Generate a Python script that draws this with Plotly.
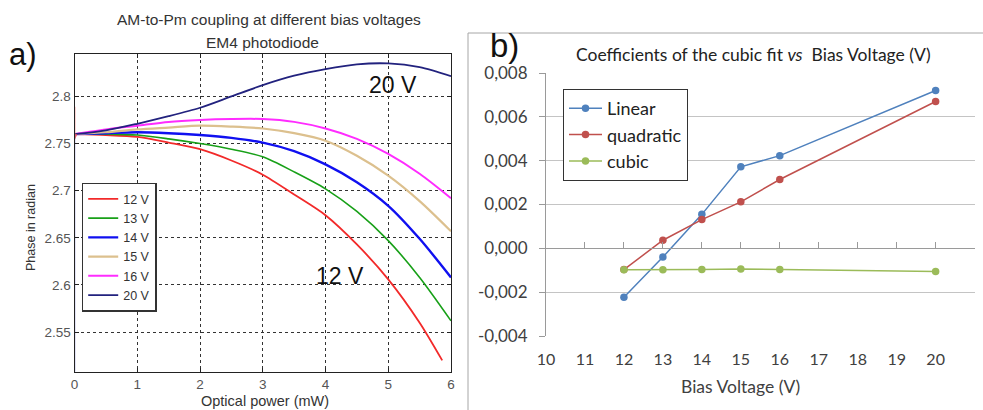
import plotly.graph_objects as go

W, H = 983, 410

# ---------------- Panel a) data (read from picture) ----------------
power_mw = [0, 0.5, 1, 1.5, 2, 2.5, 3, 3.5, 4, 4.5, 5, 5.5, 6]
phase_12v = [2.760, 2.759, 2.757, 2.751, 2.744, 2.732, 2.717, 2.696, 2.674, 2.643, 2.606, 2.560]
power_12v_end = 5.86
phase_12v_end = 2.520
phase_13v = [2.760, 2.760, 2.759, 2.755, 2.750, 2.744, 2.736, 2.720, 2.702, 2.678, 2.647, 2.608, 2.562]
phase_14v = [2.760, 2.761, 2.762, 2.761, 2.759, 2.756, 2.751, 2.742, 2.728, 2.709, 2.684, 2.649, 2.608]
phase_15v = [2.760, 2.762, 2.765, 2.767, 2.769, 2.768, 2.766, 2.761, 2.753, 2.737, 2.716, 2.689, 2.657]
phase_16v = [2.760, 2.765, 2.769, 2.773, 2.775, 2.776, 2.776, 2.773, 2.766, 2.755, 2.739, 2.718, 2.692]
phase_20v = [2.760, 2.764, 2.771, 2.779, 2.788, 2.800, 2.812, 2.822, 2.829, 2.834, 2.835, 2.831, 2.8215]
# start-up transients at 0 mW
spike_x = [0, 0, 0.03]
spike_red = [2.789, 2.755, 2.760]
spike_lav_x = [0, 0]
spike_lav = [2.508, 2.760]

labels_a = ["12 V", "13 V", "14 V", "15 V", "16 V", "20 V"]
colors_a = ["#f22a2a", "#18a018", "#1010f0", "#dcc08e", "#ff2cff", "#22227e"]
widths_a = [1.8, 1.6, 2.4, 2.2, 2.0, 1.8]

# ---------------- Panel b) data ----------------
bias_v = [12, 13, 14, 15, 16, 20]
coef_linear = [-0.00223, -0.00040, 0.00155, 0.00372, 0.00423, 0.00720]
coef_quadratic = [-0.00097, 0.00037, 0.00131, 0.00212, 0.00314, 0.00670]
coef_cubic = [-0.00098, -0.00098, -0.00097, -0.00094, -0.00097, -0.00106]
ytick_vals_b = [-0.004, -0.002, 0.0, 0.002, 0.004, 0.006, 0.008]
ytick_text_b = ["-0,004", "-0,002", "0,000", "0,002", "0,004", "0,006", "0,008"]
xtick_vals_b = list(range(10, 22))


def pxx(x):
    return x / W


def pyy(y):
    return 1 - y / H


fig = go.Figure()

series_a = [
    (power_mw[:len(phase_12v)] + [power_12v_end], phase_12v + [phase_12v_end]),
    (power_mw, phase_13v),
    (power_mw, phase_14v),
    (power_mw, phase_15v),
    (power_mw, phase_16v),
    (power_mw, phase_20v),
]
for (xs, ys), lab, col, wd in zip(series_a, labels_a, colors_a, widths_a):
    fig.add_trace(go.Scatter(x=xs, y=ys, mode="lines", name=lab,
                             line=dict(color=col, width=wd, shape="spline", smoothing=0.8),
                             xaxis="x", yaxis="y", legend="legend"))

fig.add_trace(go.Scatter(x=spike_x, y=spike_red, mode="lines", showlegend=False,
                         line=dict(color="#f25050", width=1.5), xaxis="x", yaxis="y"))
fig.add_trace(go.Scatter(x=spike_lav_x, y=spike_lav, mode="lines", showlegend=False,
                         line=dict(color="#8a8ad8", width=1.5), xaxis="x", yaxis="y"))

colors_b = ["#4f81bd", "#c0504d", "#9bbb59"]
for ys, lab, col in zip([coef_linear, coef_quadratic, coef_cubic],
                        ["Linear", "quadratic", "cubic"], colors_b):
    fig.add_trace(go.Scatter(x=bias_v, y=ys, mode="lines+markers", name=lab,
                             legendgroup=lab,
                             line=dict(color=col, width=1.5),
                             marker=dict(color=col, size=7.5),
                             xaxis="x2", yaxis="y2", legend="legend2"))
# helper empty trace so the zero-crossing axis subplot exists
fig.add_trace(go.Scatter(x=[None], y=[None], xaxis="x3", yaxis="y2",
                         showlegend=False, hoverinfo="skip"))

left_font = "Liberation Sans, Arial, sans-serif"
right_font = "Lato, Open Sans, sans-serif"

ydom_b = [pyy(336), pyy(73)]
yr_b = [-0.004, 0.008]
zero_pos = ydom_b[0] + (0 - yr_b[0]) / (yr_b[1] - yr_b[0]) * (ydom_b[1] - ydom_b[0])

fig.update_layout(
    width=W, height=H,
    margin=dict(l=0, r=0, t=0, b=0, pad=0, autoexpand=False),
    paper_bgcolor="white", plot_bgcolor="white",
    showlegend=True,
    xaxis=dict(domain=[pxx(74.5), pxx(451)], range=[0, 6], dtick=1, automargin=False,
               showgrid=True, gridcolor="#333333", griddash="dot", gridwidth=1,
               showline=True, linecolor="#222222", linewidth=1, mirror="ticks",
               ticks="inside", ticklen=4, tickcolor="#222222", zeroline=False,
               tickfont=dict(family=left_font, size=13.5, color="#555555")),
    yaxis=dict(domain=[pyy(371.7), pyy(54)], range=[2.508, 2.845], automargin=False,
               tickvals=[2.55, 2.6, 2.65, 2.7, 2.75, 2.8],
               ticktext=["2.55", "2.6", "2.65", "2.7", "2.75", "2.8"],
               showgrid=True, gridcolor="#333333", griddash="dot", gridwidth=1,
               showline=True, linecolor="#222222", linewidth=1, mirror="ticks",
               ticks="inside", ticklen=4, tickcolor="#222222", zeroline=False,
               tickfont=dict(family=left_font, size=13.5, color="#555555")),
    xaxis2=dict(domain=[pxx(546), pxx(974.6)], range=[10, 21], anchor="y2", automargin=False,
                tickvals=xtick_vals_b, showgrid=False, showline=False, zeroline=False,
                ticks="outside", ticklen=0, ticklabelstandoff=9,
                tickfont=dict(family=right_font, size=16, color="#404040")),
    xaxis3=dict(overlaying="x2", matches="x2", anchor="free", position=zero_pos, automargin=False,
                tickvals=xtick_vals_b, showgrid=False, showline=True,
                linecolor="#9a9a9a", linewidth=1, ticks="inside", ticklen=6,
                tickcolor="#9a9a9a", showticklabels=False, zeroline=False),
    yaxis2=dict(domain=ydom_b, range=yr_b, anchor="x2", automargin=False,
                tickvals=ytick_vals_b, ticktext=ytick_text_b,
                showgrid=True, gridcolor="#c4c4c4", gridwidth=1, zeroline=False,
                showline=True, linecolor="#9a9a9a", linewidth=1,
                ticks="outside", ticklen=6, tickcolor="#9a9a9a", ticklabelstandoff=8,
                tickfont=dict(family=right_font, size=17, color="#404040")),
    legend=dict(x=pxx(81.7), y=pyy(182.7), xanchor="left", yanchor="top",
                bgcolor="white", bordercolor="#333333", borderwidth=1.5,
                font=dict(family=left_font, size=12.5, color="#333333"),
                tracegroupgap=0),
    legend2=dict(x=pxx(563), y=pyy(89), xanchor="left", yanchor="top",
                 bgcolor="white", bordercolor="#333333", borderwidth=1,
                 font=dict(family=right_font, size=18, color="#222222"),
                 tracegroupgap=0, itemwidth=33),
)

annos = [
    dict(text="AM-to-Pm coupling at different bias voltages", x=269, y=19, size=15.5, font=left_font, color="#333333"),
    dict(text="EM4 photodiode", x=262, y=43, size=15.5, font=left_font, color="#333333"),
    dict(text="a)", x=23, y=54, size=31, font=left_font, color="#111111"),
    dict(text="20 V", x=393, y=85, size=23, font=left_font, color="#111111"),
    dict(text="12 V", x=340, y=276, size=23, font=left_font, color="#111111"),
    dict(text="Optical power (mW)", x=265, y=401, size=14.5, font=left_font, color="#333333"),
    dict(text="b)", x=504, y=46, size=33, font=left_font, color="#111111"),
    dict(text="Coefficients of the cubic fit <i>vs</i>  Bias Voltage (V)", x=753, y=54, size=17.5,
         font=right_font, color="#222222"),
    dict(text="Bias Voltage (V)", x=740, y=386, size=17.5, font=right_font, color="#404040"),
]
for a in annos:
    fig.add_annotation(text=a["text"], x=pxx(a["x"]), y=pyy(a["y"]), xref="paper", yref="paper",
                       xanchor="center", yanchor="middle", showarrow=False,
                       font=dict(family=a["font"], size=a["size"], color=a["color"]))
fig.add_annotation(text="Phase in radian", x=pxx(31), y=pyy(227), xref="paper", yref="paper",
                   xanchor="center", yanchor="middle", showarrow=False, textangle=-90,
                   font=dict(family=left_font, size=12.5, color="#333333"))

# frame around panel b)
fig.add_shape(type="line", xref="paper", yref="paper", x0=pxx(468), x1=1, y0=pyy(33), y1=pyy(33),
              line=dict(color="#a6a6a6", width=1))
fig.add_shape(type="line", xref="paper", yref="paper", x0=pxx(468), x1=pxx(468), y0=0, y1=pyy(33),
              line=dict(color="#a6a6a6", width=1))

fig.write_html("out.html", config={"displayModeBar": False},
               post_script="document.body.style.margin='0';document.body.style.padding='0';")
